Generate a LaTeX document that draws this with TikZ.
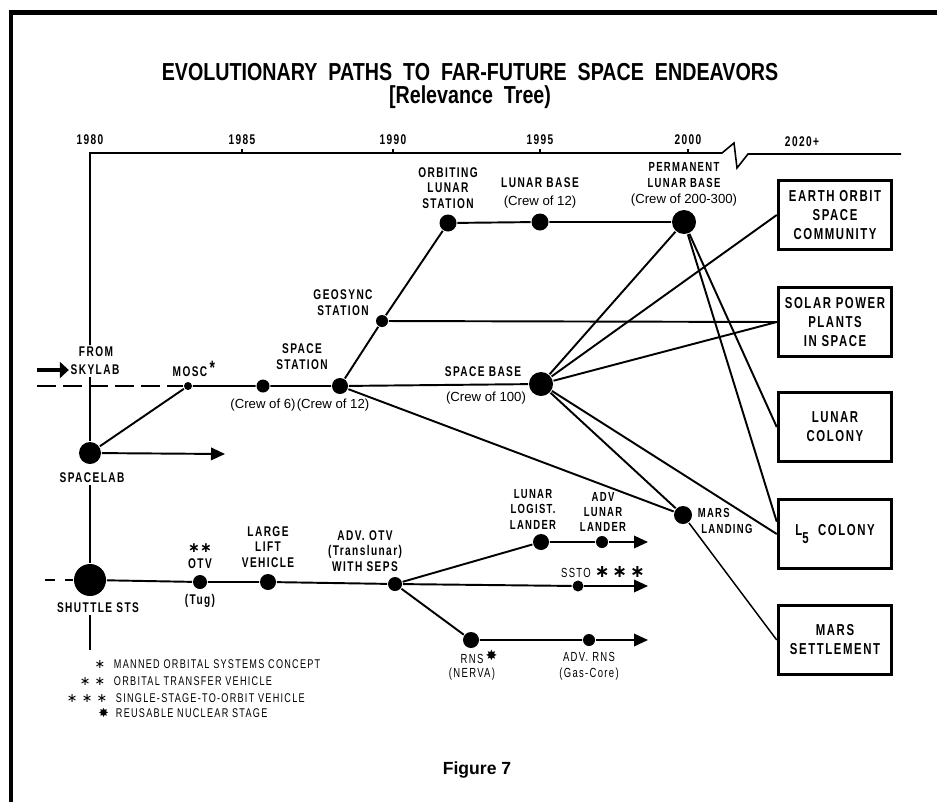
\documentclass[tikz,border=0pt]{standalone}
\usepackage{fontspec}
\setmainfont{Liberation Sans}
\newfontfamily\letr[FakeStretch=0.72,LetterSpace=10]{Liberation Sans}
\newfontfamily\headf[FakeStretch=0.8]{Liberation Sans}
\newfontfamily\symf{DejaVu Sans}
\usetikzlibrary{arrows.meta}

\begin{document}
\begin{tikzpicture}[x=0.2mm,y=-0.2mm,line width=1.1pt,
  stop/.style={circle,fill,inner sep=0pt,minimum size=#1},
  tag/.style={font=\letr\bfseries\fontsize{8}{9}\selectfont,align=center,inner sep=0.5pt},
  crew/.style={font=\fontsize{7.5}{9}\selectfont,inner sep=0.5pt},
  goal/.style={draw,line width=2pt,minimum width=22.6mm,minimum height=13.8mm,align=center,
    font=\letr\bfseries\fontsize{9}{10.8}\selectfont},
  yr/.style={font=\letr\bfseries\fontsize{8}{9}\selectfont},
  legend/.style={font=\letr\fontsize{7.2}{8}\selectfont,anchor=west,inner sep=0pt},
  fwd/.style={-{Triangle[length=2.8mm,width=2.5mm]}}]
\useasboundingbox (0,0) rectangle (937,802);
% frame
\draw[line width=2.6pt] (11,802) -- (11,12.5) -- (937,12.5);
% title
\node[font=\headf\bfseries\fontsize{14}{13}\selectfont,align=center,inner sep=0pt] (ttl) at (470,86)
  {EVOLUTIONARY\ \ PATHS\ \ TO\ \ FAR-FUTURE\ \ SPACE\ \ ENDEAVORS\\{[}Relevance\ \ Tree)};
% time scale
\coordinate (t0) at (90,153);
\foreach \yy/\px in {1985/242,1990/393,1995/540,2000/688}{
  \node[yr] at (\px,140) {\yy};
  \draw[line width=0.8pt] (\px,153) -- (\px,149);
}
\node[yr] at (90,140) {1980};
\node[yr] at (802,142) {2020+};
% stops
\node[stop=1.6mm] (mosc) at (188,386) {};
\node[stop=2.6mm] (stat6) at (263,386) {};
\node[stop=3.2mm] (stat12) at (340,386) {};
\node[stop=2.4mm] (geo) at (382,321) {};
\node[stop=3.4mm] (ols) at (448,223) {};
\node[stop=3.4mm] (lbase) at (540,222) {};
\node[stop=4.8mm] (plbase) at (684,222) {};
\node[stop=4.8mm] (sbase) at (541,384) {};
\node[stop=3.6mm] (mars) at (683,515) {};
\node[stop=4.4mm] (slab) at (90,453) {};
\node[stop=6.4mm] (sts) at (90,580) {};
\node[stop=2.8mm] (otv) at (200,582) {};
\node[stop=3.2mm] (llv) at (268,582) {};
\node[stop=2.8mm] (aotv) at (395,584) {};
\node[stop=3.2mm] (llog) at (541,542) {};
\node[stop=2.4mm] (alnd) at (602,542) {};
\node[stop=2.2mm] (ssto) at (578,586) {};
\node[stop=3.2mm] (rns) at (471,640) {};
\node[stop=2.4mm] (arns) at (589,640) {};
% goals
\node[goal] (eosc) at (835,215) {EARTH ORBIT\\SPACE\\COMMUNITY};
\node[goal] (spps) at (835,322) {SOLAR POWER\\PLANTS\\IN SPACE};
\node[goal] (lcol) at (835,427) {LUNAR\\COLONY};
\node[goal] (lfive) at (835,534) {L\raisebox{-5pt}{5}\ \ COLONY};
\node[goal] (mset) at (835,640) {MARS\\SETTLEMENT};
% labels
\node[tag] (l-from) at (96,352) {FROM};
\node[tag] (l-sky) at (95,370) {SKYLAB};
\node[tag] (l-mosc) at (190,369) {MOSC\rlap{\,\raisebox{1pt}{\fontsize{11}{11}\selectfont*}}};
\node[tag,font=\letr\bfseries\fontsize{8}{9.2}\selectfont] (l-stat) at (302,357) {SPACE\\STATION};
\node[crew] (l-c6) at (263,405) {(Crew of 6)};
\node[crew] (l-c12) at (333,405) {(Crew of 12)};
\node[tag] (l-geo) at (343,303) {GEOSYNC\\STATION};
\node[tag,font=\letr\bfseries\fontsize{8}{8.8}\selectfont] (l-ols) at (448,188) {ORBITING\\LUNAR\\STATION};
\node[tag] (l-lbase) at (540,183) {LUNAR BASE};
\node[crew] (l-c12b) at (540,202) {(Crew of 12)};
\node[tag,font=\letr\bfseries\fontsize{7.5}{9.6}\selectfont] (l-plbase) at (684,175) {PERMANENT\\LUNAR BASE};
\node[crew] (l-c200) at (684,200) {(Crew of 200-300)};
\node[tag] (l-sbase) at (483,372) {SPACE BASE};
\node[crew] (l-c100) at (486,398) {(Crew of 100)};
\node[tag,align=left,anchor=west,font=\letr\bfseries\fontsize{7.5}{9.6}\selectfont] (l-mars) at (696,521) {MARS\\\hspace{2pt}LANDING};
\node[tag] (l-slab) at (92,478) {SPACELAB};
\node[tag] (l-sts) at (98,608) {SHUTTLE STS};
\node[tag] (l-otv) at (200,556) {{\symf\bfseries ∗∗}\\OTV};
\node[tag] (l-tug) at (200,601) {(Tug)};
\node[tag] (l-llv) at (268,547) {LARGE\\LIFT\\VEHICLE};
\node[tag] (l-aotv) at (365,551) {ADV. OTV\\(Translunar)\\WITH SEPS};
\node[tag,font=\letr\bfseries\fontsize{7.5}{8.8}\selectfont] (l-llog) at (533,509) {LUNAR\\LOGIST.\\LANDER};
\node[tag,font=\letr\bfseries\fontsize{7.5}{8.4}\selectfont] (l-alnd) at (603,512) {ADV\\LUNAR\\LANDER};
\node[tag,font=\letr\fontsize{7.5}{9}\selectfont] (l-ssto) at (576,572) {SSTO\rlap{\ {\symf\bfseries\fontsize{10}{10}\selectfont ∗\,∗\,∗}}};
\node[tag,font=\letr\fontsize{7.5}{9}\selectfont] (l-rns) at (472,657) {RNS\rlap{\,\raisebox{2pt}{\symf\fontsize{8}{8}\selectfont ✸}}};
\node[tag,font=\letr\fontsize{7.5}{9}\selectfont] (l-nerva) at (472,674) {(NERVA)};
\node[tag,font=\letr\fontsize{7.5}{9}\selectfont] (l-arns) at (589,657) {ADV. RNS};
\node[tag,font=\letr\fontsize{7.5}{9}\selectfont] (l-gas) at (589,674) {(Gas-Core)};
% key
\node[legend] (k1) at (113,664) {\llap{\symf ∗\hspace{5pt}}MANNED ORBITAL SYSTEMS CONCEPT};
\node[legend] (k2) at (113,681) {\llap{\symf ∗\,\,∗\hspace{5pt}}ORBITAL TRANSFER VEHICLE};
\node[legend] (k3) at (115,698) {\llap{\symf ∗\,\,∗\,\,∗\hspace{5pt}}SINGLE-STAGE-TO-ORBIT VEHICLE};
\node[legend] (k4) at (115,713) {\llap{\symf ✸\hspace{4pt}}REUSABLE NUCLEAR STAGE};
\node[font=\bfseries\fontsize{10}{12}\selectfont] (fig) at (477,770) {Figure\ 7};
% free ends
\coordinate (d0) at (37,386);
\coordinate (d1) at (45,580);
\coordinate (a0) at (37,370);
\coordinate (slend) at (225,454);
\coordinate (tail) at (90,650);
\coordinate (e1) at (648,542);
\coordinate (e2) at (648,586);
\coordinate (e3) at (648,640);
% time line
\draw[line width=0.9pt] (l-from.north -| t0) -- (t0) -- (722,153) -- (734,143) -- (737,168) -- (748,154) -- (901,154);
% upper paths
\draw (l-sky.south -| slab) -- (slab);
\draw[dash pattern=on 3.8mm off 1.4mm] (d0) -- (mosc);
\draw[line width=2.6pt,-{Triangle[length=1.8mm,width=3.2mm]}] (a0) -- (l-sky.west);
\draw (mosc) -- (stat6) -- (stat12) -- (sbase);
\draw (mosc) -- (slab);
\draw[fwd] (slab) -- (slend);
\draw (stat12) -- (geo) -- (ols) -- (lbase) -- (plbase);
\draw (geo) -- (spps.west);
\draw (stat12) -- (mars);
\draw (sbase) -- (plbase);
\draw (sbase) -- (eosc.west);
\draw (sbase) -- (spps.west);
\draw (sbase) -- (mars);
\draw (sbase) -- (lfive.west);
\draw (plbase) -- (lcol.west);
\draw (plbase) -- ([yshift=7pt]lfive.west);
\draw[line width=0.85pt] (mars) -- (mset.west);
% lower paths
\draw (l-slab.south -| slab) -- (sts);
\draw (l-sts.south -| sts) -- (tail);
\draw[dash pattern=on 2mm off 2mm] (d1) -- (sts);
\draw (sts) -- (otv) -- (llv) -- (aotv);
\draw (aotv) -- (llog) -- (alnd);
\draw[fwd] (alnd) -- (e1);
\draw (aotv) -- (ssto);
\draw[fwd] (ssto) -- (e2);
\draw (aotv) -- (rns) -- (arns);
\draw[fwd] (arns) -- (e3);
\end{tikzpicture}
\end{document}
